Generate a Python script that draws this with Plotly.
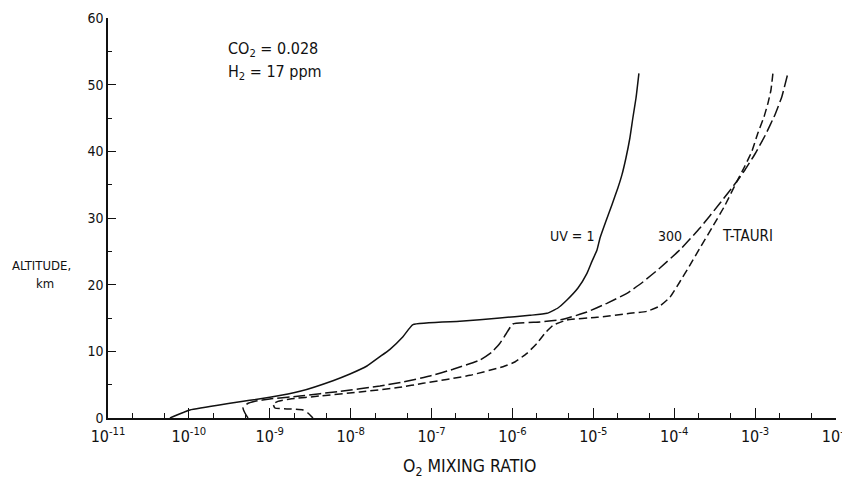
import plotly.graph_objects as go

# ---------------- data ----------------
uv1_x = [5.83e-11, 1.03e-10, 3.22e-10, 1.0e-9, 2.36e-9, 6.04e-9, 9.8e-9, 1.59e-8, 2.30e-8,
         3.06e-8, 4.43e-8, 5.89e-8, 2.24e-7, 7.0e-7, 1.64e-6, 2.67e-6, 3.65e-6, 4.72e-6,
         6.46e-6, 8.34e-6, 9.62e-6, 1.11e-5, 1.21e-5, 1.43e-5, 1.70e-5, 2.01e-5, 2.26e-5,
         2.53e-5, 2.83e-5, 3.08e-5, 3.37e-5, 3.66e-5]
uv1_alt = [0.0, 1.2, 2.2, 3.1, 4.0, 5.6, 6.6, 7.8, 9.2,
           10.3, 12.2, 14.0, 14.5, 15.0, 15.4, 15.7, 16.5, 17.7,
           19.5, 21.7, 23.5, 25.2, 27.0, 29.5, 32.0, 34.5, 36.5,
           39.0, 42.0, 45.0, 48.0, 51.7]

uv300_x = [5.38e-10, 4.93e-10, 4.67e-10, 5.22e-10, 6.56e-10, 1.0e-9, 2.36e-9, 7.38e-9, 2.30e-8,
           4.43e-8, 9.55e-8, 1.84e-7, 3.96e-7, 5.58e-7, 7.0e-7, 8.32e-7, 1.01e-6, 2.19e-6,
           4.21e-6, 8.34e-6, 1.47e-5, 2.60e-5, 4.10e-5, 6.65e-5, 1.17e-4, 2.08e-4, 3.67e-4,
           5.96e-4, 7.48e-4, 9.96e-4, 1.32e-3, 1.76e-3, 2.14e-3, 2.54e-3]
uv300_alt = [0.0, 0.75, 1.5, 2.1, 2.5, 2.85, 3.3, 4.0, 4.8,
             5.4, 6.3, 7.3, 8.7, 9.9, 11.2, 12.6, 14.1, 14.4,
             14.8, 15.9, 17.2, 18.7, 20.4, 22.5, 25.2, 28.5, 32.2,
             35.5, 37.2, 39.6, 42.3, 45.5, 48.2, 51.7]

ttauri_x = [3.42e-9, 2.96e-9, 2.57e-9, 1.78e-9, 1.16e-9, 1.10e-9, 1.26e-9, 1.78e-9, 4.17e-9,
            1.30e-8, 4.06e-8, 7.83e-8, 2.99e-7, 7.64e-7, 1.07e-6, 1.51e-6, 2.01e-6, 2.52e-6,
            3.17e-6, 4.72e-6, 1.11e-5, 2.83e-5, 4.60e-5, 6.65e-5, 8.85e-5, 1.17e-4, 1.56e-4,
            2.08e-4, 2.92e-4, 4.24e-4, 5.96e-4, 7.48e-4, 9.12e-4, 1.08e-3, 1.29e-3, 1.44e-3,
            1.57e-3, 1.66e-3]
ttauri_alt = [0.0, 0.75, 1.2, 1.35, 1.5, 2.1, 2.5, 2.85, 3.3,
              3.9, 4.6, 5.2, 6.4, 7.7, 8.4, 9.7, 11.2, 12.7,
              13.9, 14.7, 15.1, 15.7, 16.0, 16.8, 18.1, 20.4, 22.9,
              25.5, 28.5, 31.9, 35.5, 37.8, 40.0, 42.7, 45.2, 47.2,
              49.2, 51.7]

x_tickvals = [1e-11, 1e-10, 1e-9, 1e-8, 1e-7, 1e-6, 1e-5, 1e-4, 1e-3, 1e-2]
x_ticktext = ["10<sup>-11</sup>", "10<sup>-10</sup>", "10<sup>-9</sup>", "10<sup>-8</sup>",
              "10<sup>-7</sup>", "10<sup>-6</sup>", "10<sup>-5</sup>", "10<sup>-4</sup>",
              "10<sup>-3</sup>", "10<sup>-2</sup>"]
x_minorvals = [m * 10.0 ** e for e in range(-11, -2) for m in (2, 5)]
y_tickvals = [0, 10, 20, 30, 40, 50, 60]
y_minorvals = [5, 15, 25, 35, 45, 55]

FONT = "Liberation Sans Narrow, DejaVu Sans Condensed, Roboto, sans-serif"
INK = "#111111"

fig = go.Figure()
fig.add_trace(go.Scatter(x=uv1_x, y=uv1_alt, mode="lines",
                         line=dict(color=INK, width=1.5, shape="spline", smoothing=0.4),
                         name="UV = 1"))
fig.add_trace(go.Scatter(x=uv300_x, y=uv300_alt, mode="lines",
                         line=dict(color=INK, width=1.5, dash="12px,4px", shape="spline",
                                   smoothing=0.4), name="300"))
fig.add_trace(go.Scatter(x=ttauri_x, y=ttauri_alt, mode="lines",
                         line=dict(color=INK, width=1.5, dash="8px,4px", shape="spline",
                                   smoothing=0.4), name="T-TAURI"))

fig.update_xaxes(type="log", range=[-11, -2], tickvals=x_tickvals, ticktext=x_ticktext,
                 ticks="inside", ticklen=10, tickwidth=1.2, tickcolor=INK, automargin=False,
                 showline=True, linecolor=INK, linewidth=1.5, showgrid=False, zeroline=False,
                 minor=dict(tickvals=x_minorvals, ticks="inside", ticklen=5, tickcolor=INK,
                            showgrid=False),
                 ticklabelstandoff=3, ticklabeloverflow="allow",
                 tickfont=dict(family=FONT, size=16, color=INK))
fig.update_yaxes(range=[0, 60], tickvals=y_tickvals, ticks="inside", ticklen=8, tickwidth=1.2,
                 tickcolor=INK, showline=True, linecolor=INK, linewidth=1.5, showgrid=False,
                 zeroline=False, automargin=False, ticklabeloverflow="allow",
                 minor=dict(tickvals=y_minorvals, ticks="inside", ticklen=4, tickcolor=INK,
                            showgrid=False),
                 tickfont=dict(family=FONT, size=14, color=INK))

# plot-area pixel box in the 850x489 screenshot: x 108..836, y 18..418
annotations = [
    dict(text="CO<sub>2</sub> = 0.028", x=226, y=50, xanchor="left", size=16),
    dict(text="H<sub>2</sub> = 17 ppm", x=226, y=73, xanchor="left", size=16),
    dict(text="ALTITUDE,", x=41, y=265, xanchor="center", size=13),
    dict(text="km", x=45, y=283, xanchor="center", size=13),
    dict(text="UV = 1", x=572, y=236, xanchor="center", size=14),
    dict(text="300", x=670, y=236, xanchor="center", size=14),
    dict(text="T-TAURI", x=747, y=236, xanchor="center", size=15),
    dict(text="O<sub>2</sub> MIXING RATIO", x=469, y=467, xanchor="center", size=17.5),
]
for a in annotations:
    fig.add_annotation(text=a["text"], xref="paper", yref="paper",
                       x=(a["x"] - 108) / (836 - 108), y=(418 - a["y"]) / (418 - 18),
                       xanchor=a["xanchor"], yanchor="middle", showarrow=False,
                       font=dict(family=FONT, size=a["size"], color=INK))

# page body has an 8px margin, so the figure is sized/offset to compensate
fig.update_layout(width=842, height=481, margin=dict(l=100, r=14, t=10, b=71),
                  plot_bgcolor="white", paper_bgcolor="white", showlegend=False,
                  font=dict(family=FONT, color=INK))

fig.write_html("out.html")
